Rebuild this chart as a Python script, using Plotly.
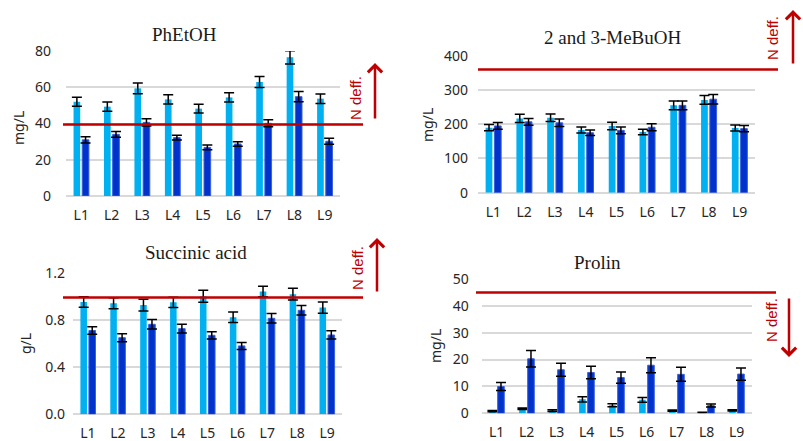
import plotly.graph_objects as go

categories = ["L1", "L2", "L3", "L4", "L5", "L6", "L7", "L8", "L9"]

pheoh_light = [52, 49.3, 59.4, 53.3, 48.2, 54.4, 62.9, 76.5, 53.7]
pheoh_light_err = [2.5, 2.6, 3.0, 2.5, 2.4, 2.6, 3.0, 3.7, 2.6]
pheoh_dark = [31, 34, 40.6, 32.2, 26.8, 28.7, 40.1, 54.8, 30.2]
pheoh_dark_err = [1.7, 1.6, 2.0, 1.3, 1.3, 1.2, 1.9, 2.8, 1.6]

mebuoh_light = [190, 217, 219, 183, 195, 177, 255, 271, 189]
mebuoh_light_err = [9, 12, 11, 9, 11, 8, 13, 13, 9]
mebuoh_dark = [195, 207, 204, 175, 182, 191, 255, 273, 187]
mebuoh_dark_err = [10, 10, 11, 8, 10, 10, 13, 14, 9]

succ_light = [0.955, 0.945, 0.93, 0.953, 1.005, 0.826, 1.045, 1.022, 0.908]
succ_light_err = [0.045, 0.047, 0.05, 0.044, 0.051, 0.045, 0.045, 0.05, 0.047]
succ_dark = [0.713, 0.652, 0.766, 0.729, 0.672, 0.582, 0.817, 0.885, 0.675]
succ_dark_err = [0.032, 0.034, 0.04, 0.037, 0.031, 0.03, 0.04, 0.04, 0.035]

prolin_light = [0.8, 1.7, 1.0, 5.2, 3.0, 5.0, 1.0, 0.3, 1.1]
prolin_light_err = [0.2, 0.3, 0.3, 1.0, 0.6, 0.9, 0.2, 0.1, 0.2]
prolin_dark = [10, 20.3, 16.2, 15.2, 13.3, 17.9, 14.5, 2.9, 14.6]
prolin_dark_err = [1.5, 3.1, 2.4, 2.3, 2.1, 2.8, 2.6, 0.6, 2.3]

titles = ["PhEtOH", "2 and 3-MeBuOH", "Succinic acid", "Prolin"]
unit_labels = ["mg/L", "mg/L", "g/L", "mg/L"]
threshold_values = [39.5, 360, 0.995, 45]
y_ranges = [[0, 80], [0, 400], [0, 1.2], [0, 50]]
y_dticks = [20, 100, 0.4, 10]
y_formats = ["d", "d", ".1f", "d"]

W, H = 803, 441
LIGHT = "#00B0F0"
DARK = "#0033CC"
RED = "#C00000"
GRID = "#D9D9D9"

# plot area boxes in pixels: (x0, x1, ytop, ybottom)
boxes = [(66, 340, 51, 196), (478, 755, 55.7, 192.7), (73, 342, 273.3, 414.3), (481.7, 751.7, 279, 413.3)]

series = [
    (pheoh_light, pheoh_light_err, pheoh_dark, pheoh_dark_err),
    (mebuoh_light, mebuoh_light_err, mebuoh_dark, mebuoh_dark_err),
    (succ_light, succ_light_err, succ_dark, succ_dark_err),
    (prolin_light, prolin_light_err, prolin_dark, prolin_dark_err),
]

fig = go.Figure()
layout = {}
annotations = []
shapes = []

tick_font = dict(family="Noto Sans, Open Sans, sans-serif", size=14, color="#262626")
standoffs = [14, 9, 7, 12]
xstand = [9, 9, 9, 9]

for i, (lv, le, dv, de) in enumerate(series):
    n = i + 1
    xa = "x" if n == 1 else f"x{n}"
    ya = "y" if n == 1 else f"y{n}"
    fig.add_trace(go.Bar(x=categories, y=lv, xaxis=xa, yaxis=ya, marker=dict(color=LIGHT, line=dict(width=0)),
                         error_y=dict(type="data", array=le, color="black", thickness=1.5, width=5),
                         offsetgroup="a", showlegend=False))
    fig.add_trace(go.Bar(x=categories, y=dv, xaxis=xa, yaxis=ya,
                         marker=dict(color=DARK, line=dict(width=1, color="#3D5FD9")),
                         error_y=dict(type="data", array=de, color="black", thickness=1.5, width=5),
                         offsetgroup="b", showlegend=False))
    x0, x1, yt, yb = boxes[i]
    xkey = "xaxis" if n == 1 else f"xaxis{n}"
    ykey = "yaxis" if n == 1 else f"yaxis{n}"
    layout[xkey] = dict(domain=[x0 / W, x1 / W], anchor=ya, tickfont=tick_font, showgrid=False,
                        showline=False, ticks="", ticklabelstandoff=xstand[i], fixedrange=True,
                        automargin=False)
    layout[ykey] = dict(domain=[1 - yb / H, 1 - yt / H], anchor=xa, range=y_ranges[i], dtick=y_dticks[i],
                        tick0=0, tickformat=y_formats[i], showgrid=True, gridcolor=GRID, gridwidth=1.5,
                        zeroline=True, zerolinecolor=GRID, zerolinewidth=1.5, tickfont=tick_font,
                        ticklabelstandoff=standoffs[i], showline=False, fixedrange=True,
                        automargin=False)

# titles
title_pos = [(184, 35), (612, 38), (196, 252), (597, 262)]
for i, (tx, ty) in enumerate(title_pos):
    annotations.append(dict(text=titles[i], xref="paper", yref="paper", x=tx / W, y=1 - ty / H,
                            showarrow=False, xanchor="center", yanchor="middle",
                            font=dict(family="Liberation Serif, Times New Roman, serif", size=19, color="#1a1a1a")))

# axis unit labels
unit_pos = [(19, 128), (428, 125), (25, 344), (435, 346)]
for i, (ux, uy) in enumerate(unit_pos):
    annotations.append(dict(text=unit_labels[i], xref="paper", yref="paper", x=ux / W, y=1 - uy / H,
                            showarrow=False, textangle=-90, xanchor="center", yanchor="middle",
                            font=dict(family="Noto Sans, Open Sans, sans-serif", size=14, color="#262626")))

# threshold lines
line_x = [(63, 363), (478, 778), (63, 363), (476, 776)]
for i, (lx0, lx1) in enumerate(line_x):
    n = i + 1
    ya = "y" if n == 1 else f"y{n}"
    shapes.append(dict(type="line", xref="paper", yref=ya, x0=lx0 / W, x1=lx1 / W,
                       y0=threshold_values[i], y1=threshold_values[i], line=dict(color=RED, width=2.5)))

# "N deff." labels and arrows
ntext_pos = [(355, 98), (773, 38), (357, 268), (771, 320)]
for (tx, ty) in ntext_pos:
    annotations.append(dict(text="N deff.", xref="paper", yref="paper", x=tx / W, y=1 - ty / H,
                            showarrow=False, textangle=-90, xanchor="center", yanchor="middle",
                            font=dict(family="Liberation Sans, Arial, sans-serif", size=15, color=RED)))

arrows = [(375, 63, 120), (793, 10, 65), (377, 238, 293), (789, 357, 297)]
for (axp, head, tail) in arrows:
    annotations.append(dict(text="", xref="paper", yref="paper", x=axp / W, y=1 - head / H,
                            axref="pixel", ayref="pixel", ax=0, ay=(tail - head),
                            showarrow=True, arrowhead=4, arrowsize=1.1, arrowwidth=2.5, arrowcolor=RED))

fig.update_layout(
    width=W, height=H, margin=dict(l=0, r=0, t=0, b=0, autoexpand=False),
    paper_bgcolor="white", plot_bgcolor="white",
    barmode="group", bargap=0.43, bargroupgap=0.23,
    annotations=annotations, shapes=shapes, **layout,
)

fig.write_html("out.html", config={"displayModeBar": False},
               post_script="document.body.style.margin='0px';document.body.style.overflow='hidden';")
